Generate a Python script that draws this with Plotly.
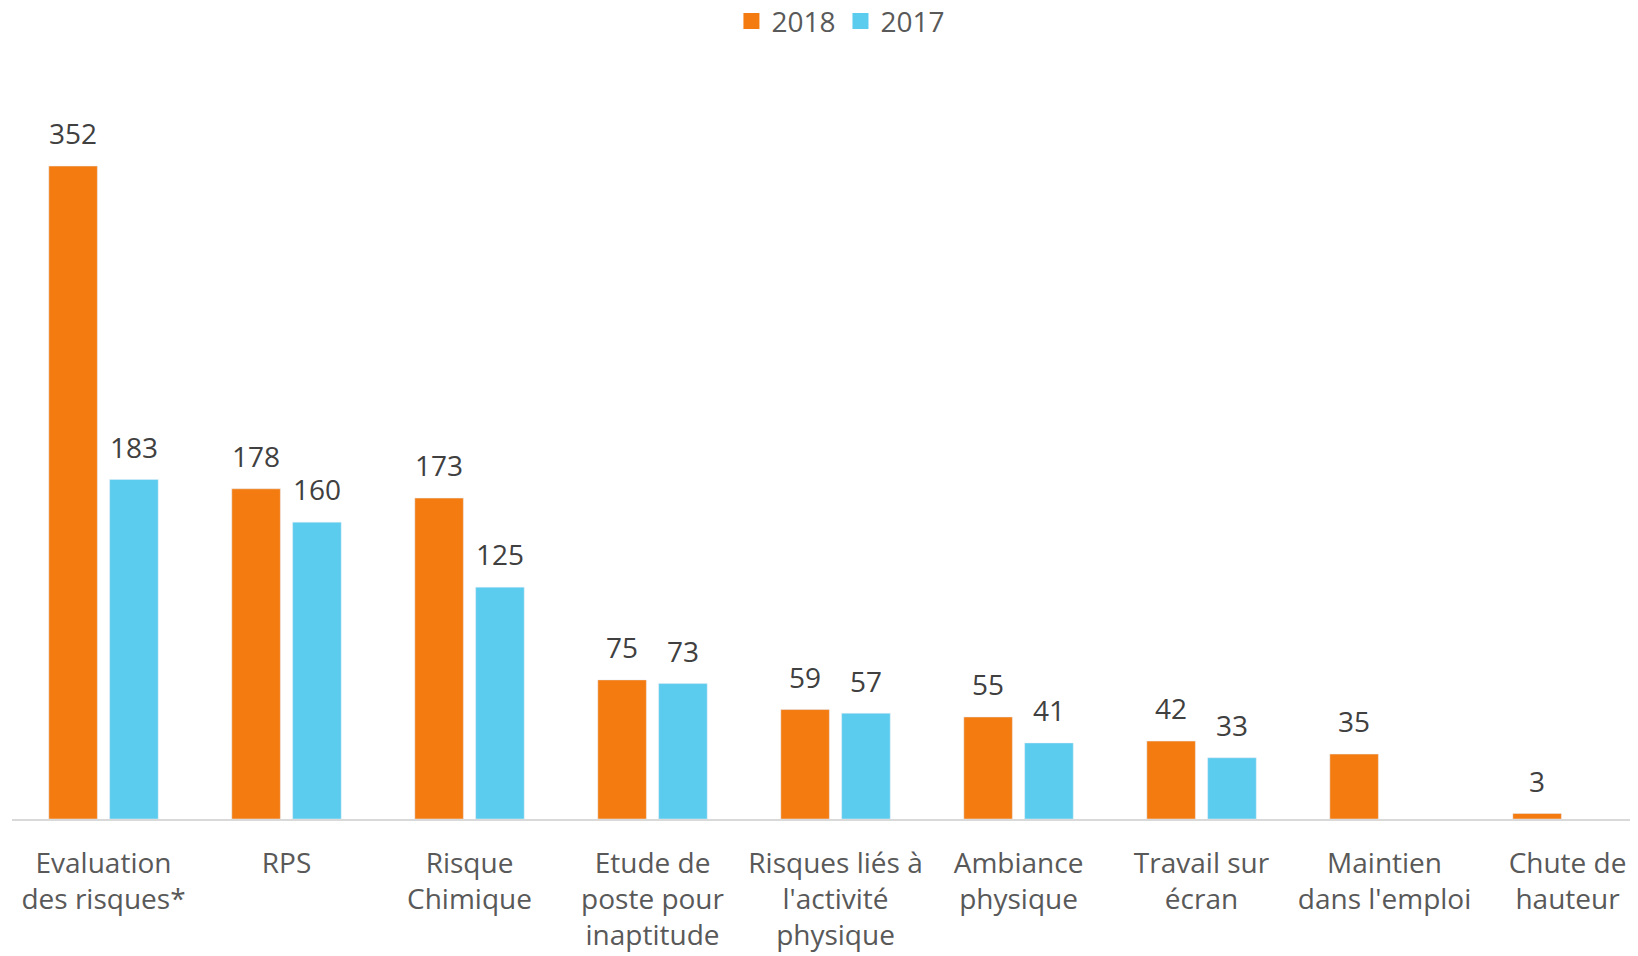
import plotly.graph_objects as go

# données
categories = [
    "Evaluation<br>des risques*",
    "RPS",
    "Risque<br>Chimique",
    "Etude de<br>poste pour<br>inaptitude",
    "Risques liés à<br>l'activité<br>physique",
    "Ambiance<br>physique",
    "Travail sur<br>écran",
    "Maintien<br>dans l'emploi",
    "Chute de<br>hauteur",
]
values_2018 = [352, 178, 173, 75, 59, 55, 42, 35, 3]
values_2017 = [183, 160, 125, 73, 57, 41, 33, None, None]

orange = "#F47B10"
bleu = "#5BCBEE"
police = "Open Sans"

fig = go.Figure()

series = [("2018", values_2018, orange, "a"), ("2017", values_2017, bleu, "b")]

for nom, vals, coul, grp in series:
    fig.add_trace(go.Bar(name=nom, x=categories, y=vals, marker_color=coul,
                         offsetgroup=grp, showlegend=False))

# étiquettes de valeurs (marqueur invisible pour décaler le texte)
for nom, vals, coul, grp in series:
    fig.add_trace(go.Scatter(
        x=categories, y=vals, mode="markers+text",
        text=[str(v) if v is not None else "" for v in vals],
        textposition="top center",
        textfont=dict(family=police, size=28, color="#404040"),
        marker=dict(size=22, opacity=0),
        offsetgroup=grp, showlegend=False, hoverinfo="skip",
    ))

# entrées de légende (carrés)
for nom, vals, coul, grp in series:
    fig.add_trace(go.Scatter(
        name=nom, x=[categories[0]], y=[None], mode="markers",
        marker=dict(symbol="square", size=17, color=coul),
        offsetgroup=grp, hoverinfo="skip",
    ))

# la page html ajoute une marge de 8 px autour du graphique
fig.update_layout(
    width=1630, height=948,
    margin=dict(l=4, r=0, t=69, b=137, autoexpand=False),
    plot_bgcolor="white", paper_bgcolor="white",
    barmode="group", bargap=0.335, bargroupgap=0.202,
    scattermode="group", scattergap=0.335,
    font=dict(family=police, size=28, color="#595959"),
    legend=dict(orientation="h", x=0.511, xanchor="center", xref="container",
                y=0.986, yanchor="middle", yref="container",
                font=dict(size=28, color="#595959"), itemwidth=30),
    showlegend=True,
)
fig.update_xaxes(range=[-0.5, 8.385], showline=True, linecolor="#D9D9D9", linewidth=2,
                 ticks="", showgrid=False, ticklabelstandoff=18, automargin=False,
                 tickfont=dict(size=28, color="#595959"))
fig.update_yaxes(range=[0, 400], visible=False, automargin=False)

fig.write_html("out.html")
